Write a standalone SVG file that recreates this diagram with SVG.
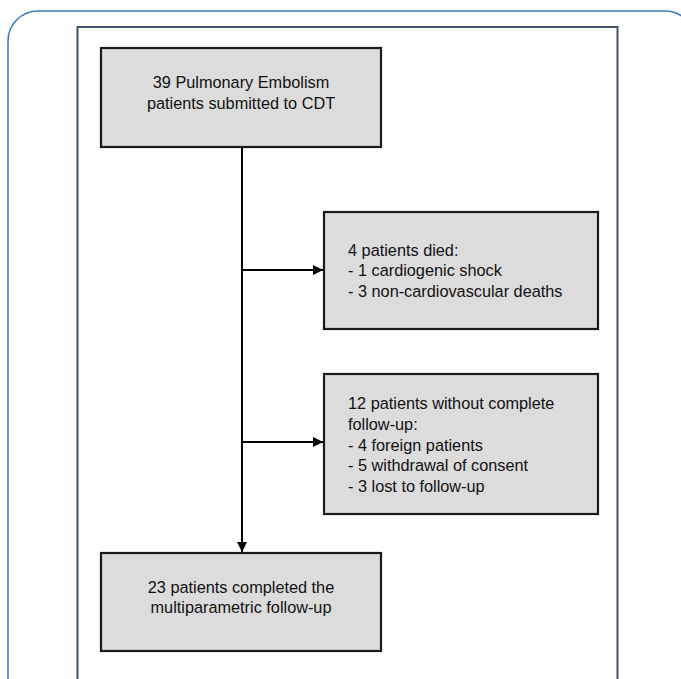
<svg xmlns="http://www.w3.org/2000/svg" width="681" height="679" viewBox="0 0 681 679">
<style>
.box{fill:#dcdcdc;stroke:#1a1a1a;stroke-width:2.2}
.t{font-family:"Liberation Sans",Arial,sans-serif;font-size:16.3px;fill:#111}
.c{text-anchor:middle}
.con{stroke:#000;stroke-width:2;fill:none}
</style>
<defs>
<marker id="ah" viewBox="0 0 10 10" refX="10" refY="5" markerWidth="10" markerHeight="10" markerUnits="userSpaceOnUse" orient="auto">
<path d="M0,0 L10,5 L0,10 z" fill="#000"/>
</marker>
</defs>
<rect width="681" height="679" fill="#fff"/>
<path d="M8,700 V41 A30,30 0 0 1 38,11 H665 A30,30 0 0 1 695,41 V700" fill="none" stroke="#3b7cc2" stroke-width="1.6"/>
<path d="M77.5,700 V27 H617.5 V700" fill="none" stroke="#44546a" stroke-width="2"/>
<g id="connectors">
<line class="con" x1="242" y1="147" x2="242" y2="552" marker-end="url(#ah)"/>
<line class="con" x1="242" y1="270" x2="323" y2="270" marker-end="url(#ah)"/>
<line class="con" x1="242" y1="442" x2="323" y2="442" marker-end="url(#ah)"/>
</g>
<g id="n1">
<rect class="box" x="101" y="48" width="280" height="99"/>
<text class="t c" x="241" y="88">39 Pulmonary Embolism</text>
<text class="t c" x="241" y="108.5">patients submitted to CDT</text>
</g>
<g id="n2">
<rect class="box" x="324" y="212" width="274" height="117"/>
<text class="t" x="348" y="255.5">4 patients died:</text>
<text class="t" x="348" y="276">- 1 cardiogenic shock</text>
<text class="t" x="348" y="296.5">- 3 non-cardiovascular deaths</text>
</g>
<g id="n3">
<rect class="box" x="324" y="374" width="274" height="140"/>
<text class="t" x="348" y="409.3">12 patients without complete</text>
<text class="t" x="348" y="430">follow-up:</text>
<text class="t" x="348" y="450.7">- 4 foreign patients</text>
<text class="t" x="348" y="471.3">- 5 withdrawal of consent</text>
<text class="t" x="348" y="492">- 3 lost to follow-up</text>
</g>
<g id="n4">
<rect class="box" x="101" y="553" width="280" height="98"/>
<text class="t c" x="241" y="592.5">23 patients completed the</text>
<text class="t c" x="241" y="613">multiparametric follow-up</text>
</g>
</svg>
